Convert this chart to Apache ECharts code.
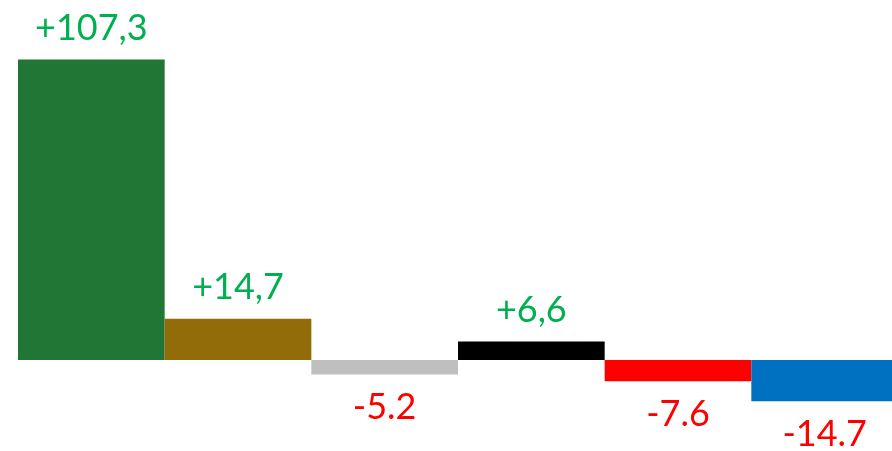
<!DOCTYPE html>
<html>
<head>
<meta charset="utf-8">
<script src="https://cdn.jsdelivr.net/npm/echarts@6/dist/echarts.min.js"></script>
<style>
  html, body { margin: 0; padding: 0; background: #fff; overflow: hidden; }
  #container1 { width: 898px; height: 451px; }
</style>
</head>
<body>
<div id="container1"></div>
<script>
var categories = ['a', 'b', 'c', 'd', 'e', 'f'];
var values = [107.3, 14.7, -5.2, 6.6, -7.6, -14.7];
var labelTexts = ['+107,3', '+14,7', '-5.2', '+6,6', '-7.6', '-14.7'];
var barColors = ['#217535', '#936c0a', '#bfbfbf', '#000000', '#ff0000', '#0070c0'];

var dom = document.getElementById("container1");
var myChart = echarts.init(dom);

var seriesData = values.map(function (v, i) {
    var up = v >= 0;
    return {
        value: v,
        itemStyle: { color: barColors[i] },
        label: {
            position: up ? 'top' : 'bottom',
            distance: up ? 13 : 15,
            color: up ? '#00b050' : '#ff0000',
            formatter: labelTexts[i]
        }
    };
});

var option = {
    animation: false,
    grid: { left: 18, top: 24, right: 0, height: 392 },
    xAxis: {
        type: 'category',
        data: categories,
        show: false
    },
    yAxis: {
        type: 'value',
        min: -20,
        max: 120,
        show: false
    },
    series: [
        {
            type: 'bar',
            barWidth: '100%',
            barGap: 0,
            data: seriesData,
            label: {
                show: true,
                fontFamily: 'Lato',
                fontSize: 36
            }
        }
    ]
};
myChart.setOption(option);
</script>
</body>
</html>
